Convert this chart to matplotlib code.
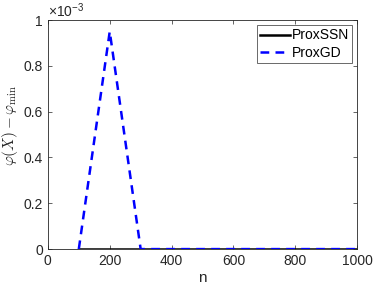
import matplotlib
matplotlib.use("Agg")
import matplotlib.pyplot as plt
import numpy as np

n = [100, 200, 300, 400, 500, 600, 700, 800, 900, 1000]
prox_ssn = [0, 0, 0, 0, 0, 0, 0, 0, 0, 0]
prox_gd = [0, 0.95e-3, 0, 0, 0, 0, 0, 0, 0, 0]
xticks = [0, 200, 400, 600, 800, 1000]
yticks = [0, 0.2e-3, 0.4e-3, 0.6e-3, 0.8e-3, 1e-3]

plt.rcParams['font.family'] = ['Liberation Sans', 'DejaVu Sans']
plt.rcParams['mathtext.fontset'] = 'cm'

fig = plt.figure(figsize=(3.74, 2.91), dpi=100)
ax = fig.add_axes([0.128, 0.144, 0.827, 0.787])
ax.plot(n, prox_ssn, color='black', lw=1.8, label='ProxSSN')
ax.plot(n, prox_gd, color='blue', lw=1.8, ls=(0, (3.5, 2.5)), label='ProxGD')
ax.set_xlim(0, 1000)
ax.set_ylim(0, 1e-3)
ax.set_xticks(xticks)
ax.set_yticks(yticks)
ax.set_yticklabels(['0', '0.2', '0.4', '0.6', '0.8', '1'])
ax.text(0.0, 1.0, r'$\mathregular{\times10^{-3}}$', transform=ax.transAxes, fontsize=10, color='#262626', ha='left', va='bottom')
ax.tick_params(direction='in', labelsize=10, colors='#262626', length=3, width=0.5, top=True, right=True, labeltop=False, labelright=False)
for s in ax.spines.values():
    s.set_color('#262626')
    s.set_linewidth(0.6)
ax.set_xlabel('n', fontsize=11, color='#262626', labelpad=2)
ax.set_ylabel(r'$\varphi(X) - \varphi_{\min}$', fontsize=11, color='#262626', labelpad=0)
ax.yaxis.set_label_coords(-0.09, 0.54)
leg = ax.legend(loc='upper right', fontsize=10, frameon=True, fancybox=False, edgecolor='#262626', borderpad=0.25, handlelength=2.1, handletextpad=0.15, labelspacing=0.25, borderaxespad=0.35)
leg.get_frame().set_linewidth(0.6)
fig.savefig('out.png', dpi=100)
